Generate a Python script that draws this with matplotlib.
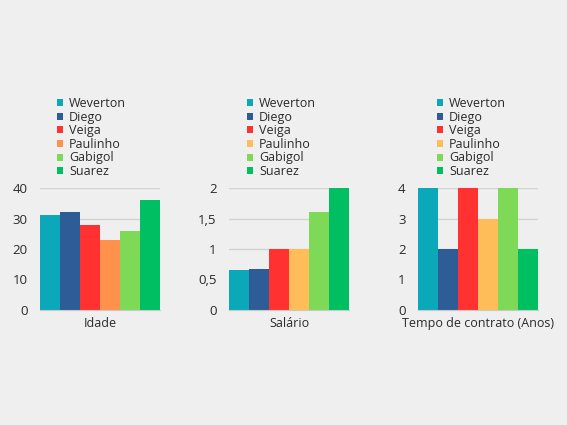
import matplotlib
matplotlib.use("Agg")
import matplotlib.pyplot as plt
from matplotlib.patches import Patch

players = ["Weverton", "Diego", "Veiga", "Paulinho", "Gabigol", "Suarez"]
idade = [31, 32, 28, 23, 26, 36]
salario = [0.65, 0.67, 1.0, 1.0, 1.6, 2.0]
tempo = [4, 2, 4, 3, 4, 2]

titles = ["Idade", "Salário", "Tempo de contrato (Anos)"]
yticks = [[0, 10, 20, 30, 40], [0, 0.5, 1, 1.5, 2], [0, 1, 2, 3, 4]]
yticklabels = [["0", "10", "20", "30", "40"], ["0", "0,5", "1", "1,5", "2"], ["0", "1", "2", "3", "4"]]

colors_a = ["#0aa8b8", "#2e5c97", "#ff3131", "#ff914d", "#7ed957", "#00bf63"]
colors_b = ["#0aa8b8", "#2e5c97", "#ff3131", "#ffbd59", "#7ed957", "#00bf63"]
palettes = [colors_a, colors_b, colors_b]
series = [idade, salario, tempo]

plt.rcParams['font.family'] = ['Open Sans', 'DejaVu Sans']
bg = "#efefef"
fig = plt.figure(figsize=(5.67, 4.25), dpi=100, facecolor=bg)

W, H = 567, 425
lefts = [40, 229, 418]
ax_w = 120
top_px, bot_px = 188, 310
leg_x = [57, 247, 437]

for i in range(3):
    ax = fig.add_axes([lefts[i] / W, 1 - bot_px / H, ax_w / W, (bot_px - top_px) / H])
    ax.set_facecolor(bg)
    vals = series[i]
    ax.bar(range(len(players)), vals, width=1.0, color=palettes[i], zorder=3)
    ax.set_xlim(-0.5, len(players) - 0.5)
    ax.set_ylim(0, yticks[i][-1])
    ax.set_yticks(yticks[i])
    ax.set_yticklabels(yticklabels[i])
    ax.yaxis.grid(True, color="#d2d2d2", linewidth=1, zorder=0)
    ax.set_xticks([])
    for s in ["top", "right", "left"]:
        ax.spines[s].set_visible(False)
    ax.spines["bottom"].set_color("#c8c8c8")
    ax.spines["bottom"].set_zorder(4)
    ax.tick_params(axis="y", length=0, pad=9, labelsize=9.5, labelcolor="#2a2a2a")
    ax.set_xlabel(titles[i], fontsize=9, color="#2a2a2a", labelpad=5)
    handles = [Patch(facecolor=c, edgecolor="none") for c in palettes[i]]
    fig.legend(handles, players, loc="upper left",
               bbox_to_anchor=(leg_x[i] / W, 1 - 97 / H), bbox_transform=fig.transFigure,
               frameon=False, fontsize=9, handlelength=0.5, handleheight=0.5,
               handletextpad=0.45, borderpad=0, borderaxespad=0, labelspacing=0.05,
               labelcolor="#2a2a2a")

fig.savefig("out.png", dpi=100, facecolor=bg)
